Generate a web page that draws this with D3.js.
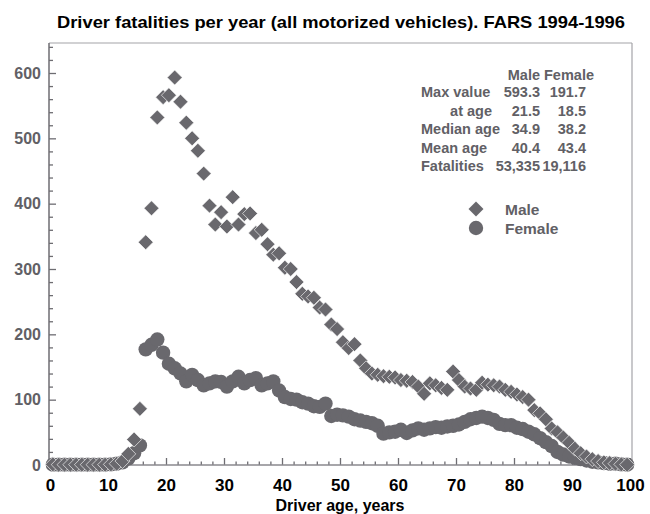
<!DOCTYPE html>
<html>
<head>
<meta charset="utf-8">
<script src="https://cdn.jsdelivr.net/npm/d3@7"></script>
<style>
  body { margin: 0; background: #fff; }
  text { font-family: "Liberation Sans", Arial, sans-serif; font-weight: bold; }
</style>
</head>
<body>
<script>

// driver age (mid-year of each age bin)
ages = [
  0.5, 1.5, 2.5, 3.5, 4.5, 5.5, 6.5, 7.5, 8.5, 9.5,
  10.5, 11.5, 12.5, 13.5, 14.5, 15.5, 16.5, 17.5, 18.5, 19.5,
  20.5, 21.5, 22.5, 23.5, 24.5, 25.5, 26.5, 27.5, 28.5, 29.5,
  30.5, 31.5, 32.5, 33.5, 34.5, 35.5, 36.5, 37.5, 38.5, 39.5,
  40.5, 41.5, 42.5, 43.5, 44.5, 45.5, 46.5, 47.5, 48.5, 49.5,
  50.5, 51.5, 52.5, 53.5, 54.5, 55.5, 56.5, 57.5, 58.5, 59.5,
  60.5, 61.5, 62.5, 63.5, 64.5, 65.5, 66.5, 67.5, 68.5, 69.5,
  70.5, 71.5, 72.5, 73.5, 74.5, 75.5, 76.5, 77.5, 78.5, 79.5,
  80.5, 81.5, 82.5, 83.5, 84.5, 85.5, 86.5, 87.5, 88.5, 89.5,
  90.5, 91.5, 92.5, 93.5, 94.5, 95.5, 96.5, 97.5, 98.5, 99.5
];

// fatalities per year, male drivers
male = [
  1, 0.5, 0.5, 0.5, 0.5, 0.5, 0.5, 0.5, 0.5, 0.5,
  1, 2, 6, 17, 39, 86, 341, 393, 532, 563,
  566, 593, 556, 524, 500, 481, 446, 397, 368, 387,
  365, 410, 368, 384, 385, 355, 360, 338, 322, 324,
  302, 300, 280, 262, 258, 256, 241, 238, 215, 208,
  188, 179, 185, 160, 148, 140, 138, 136, 135, 134,
  130, 129, 127, 120, 109, 125, 122, 118, 115, 143,
  130, 120, 117, 115, 126, 123, 122, 120, 115, 112,
  108, 104, 100, 84, 79, 70, 56, 50, 42, 34,
  25, 18, 13, 9, 6, 4, 3, 2, 1, 0.5
];

// fatalities per year, female drivers
female = [
  0.5, 0.5, 0.5, 0.5, 0.5, 0.5, 0.5, 0.5, 0.5, 0.5,
  1, 2, 4, 10, 18, 30, 177, 184, 192, 172,
  155, 148, 140, 128, 138, 130, 122, 125, 128, 127,
  120, 128, 135, 125, 130, 133, 122, 125, 128, 114,
  104, 101, 100, 96, 94, 90, 89, 94, 75, 77,
  76, 74, 70, 68, 66, 64, 60, 48, 50, 51,
  54, 49, 53, 56, 54, 56, 58, 57, 59, 60,
  62, 66, 70, 72, 74, 72, 69, 63, 61, 61,
  57, 55, 51, 47, 41, 35, 29, 20, 16, 13,
  11, 9, 7, 5, 4, 3, 2, 2, 1, 0.5
];

// axis ticks
xTicks = [0, 10, 20, 30, 40, 50, 60, 70, 80, 90, 100];
xMinor = [2, 4, 6, 8, 12, 14, 16, 18, 22, 24, 26, 28, 32, 34, 36, 38, 42, 44, 46, 48,
          52, 54, 56, 58, 62, 64, 66, 68, 72, 74, 76, 78, 82, 84, 86, 88, 92, 94, 96, 98];
yTicks = [0, 100, 200, 300, 400, 500, 600];
yMinor = [20, 40, 60, 80, 120, 140, 160, 180, 220, 240, 260, 280, 320, 340, 360, 380,
          420, 440, 460, 480, 520, 540, 560, 580, 620, 640];

// summary table
statCols = ["Male", "Female"];
statRows = ["Max value", "at age", "Median age", "Mean age", "Fatalities"];
statMale = ["593.3", "21.5", "34.9", "40.4", "53,335"];
statFemale = ["191.7", "18.5", "38.2", "43.4", "19,116"];

MARK = "#69686d";
GREY = "#616065";

var svgContainer = d3.select("body").append("svg")
                                    .attr("width", 650)
                                    .attr("height", 514);

var x = d3.scaleLinear().domain([0, 100]).range([50, 630]);
var y = d3.scaleLinear().domain([0, 600]).range([465, 73]);

// plot box edges (window.top is reserved, so no "top" here)
var plotLeft = 49, plotRight = 632, plotTop = Math.round(y(646)), plotBottom = y(0);

// title
svgContainer.append("text").attr("x", 341).attr("y", 28)
    .attr("text-anchor", "middle").attr("font-size", 17)
    .attr("textLength", 568).attr("lengthAdjust", "spacingAndGlyphs")
    .attr("fill", "#000")
    .text("Driver fatalities per year (all motorized vehicles). FARS 1994-1996");

// light frame top/right
svgContainer.append("line").attr("x1", plotLeft).attr("y1", plotTop).attr("x2", plotRight).attr("y2", plotTop)
    .attr("stroke", "#a4a3a8").attr("stroke-width", 1.2);
svgContainer.append("line").attr("x1", plotRight).attr("y1", plotTop).attr("x2", plotRight).attr("y2", plotBottom)
    .attr("stroke", "#a4a3a8").attr("stroke-width", 1.2);

// y axis
var yAxis = svgContainer.append("g").attr("transform", "translate(" + plotLeft + ",0)");
yAxis.call(d3.axisLeft(y).tickValues(yTicks).tickSizeInner(-7).tickSizeOuter(0).tickPadding(8));
yAxis.append("g").call(d3.axisLeft(y).tickValues(yMinor).tickSizeInner(-4).tickSizeOuter(0).tickFormat(""));
yAxis.selectAll(".domain").remove();
yAxis.selectAll("line").attr("stroke", "#6e6d72").attr("stroke-width", 1.3);
yAxis.selectAll("text").attr("font-size", 16).attr("fill", GREY)
    .attr("font-family", "'Liberation Sans', Arial, sans-serif").attr("font-weight", "bold");

// x axis
var xAxis = svgContainer.append("g").attr("transform", "translate(0," + plotBottom + ")");
xAxis.call(d3.axisBottom(x).tickValues(xTicks).tickSizeInner(-7).tickSizeOuter(0).tickPadding(14));
xAxis.append("g").call(d3.axisBottom(x).tickValues(xMinor).tickSizeInner(-3.5).tickSizeOuter(0).tickFormat(""));
xAxis.selectAll(".domain").remove();
xAxis.selectAll("line").attr("stroke", "#6e6d72").attr("stroke-width", 1.3);
xAxis.selectAll("text").attr("font-size", 17).attr("fill", "#000")
    .attr("font-family", "'Liberation Sans', Arial, sans-serif").attr("font-weight", "bold");

// axis lines
svgContainer.append("line").attr("x1", plotLeft).attr("y1", plotTop).attr("x2", plotLeft).attr("y2", plotBottom)
    .attr("stroke", "#6e6d72").attr("stroke-width", 1.5);
svgContainer.append("line").attr("x1", plotLeft).attr("y1", plotBottom).attr("x2", plotRight).attr("y2", plotBottom)
    .attr("stroke", "#8a898e").attr("stroke-width", 1.3);

// x axis title
svgContainer.append("text").attr("x", 340).attr("y", 511)
    .attr("text-anchor", "middle").attr("font-size", 16).attr("fill", "#000")
    .text("Driver age, years");

// female circles
svgContainer.append("g").selectAll("circle")
    .data(ages).enter().append("circle")
    .attr("cx", function(d) { return x(d); })
    .attr("cy", function(d, i) { return y(female[i]); })
    .attr("r", 7.2)
    .attr("fill", MARK);

// male diamonds (rotated squares)
var diamond = d3.symbol().type(d3.symbolSquare).size(112);
svgContainer.append("g").selectAll("path")
    .data(ages).enter().append("path")
    .attr("d", diamond)
    .attr("transform", function(d, i) { return "translate(" + x(d) + "," + y(male[i]) + ") rotate(45)"; })
    .attr("fill", MARK).attr("stroke", "#fff").attr("stroke-width", 0.6);

// summary table
var table = svgContainer.append("g").attr("font-size", 14.5).attr("fill", GREY);
table.append("text").attr("x", 540).attr("y", 80).attr("text-anchor", "end").text(statCols[0]);
table.append("text").attr("x", 594).attr("y", 80).attr("text-anchor", "end").text(statCols[1]);
for (var i = 0; i < statRows.length; i++) {
    var yy = 97 + i * 18.6;
    table.append("text").attr("x", i == 1 ? 492 : 421).attr("y", yy)
        .attr("text-anchor", i == 1 ? "end" : "start").text(statRows[i]);
    table.append("text").attr("x", 540).attr("y", yy).attr("text-anchor", "end").text(statMale[i]);
    table.append("text").attr("x", 586).attr("y", yy).attr("text-anchor", "end").text(statFemale[i]);
}

// legend
var legend = svgContainer.append("g").attr("font-size", 15.5).attr("fill", GREY);
legend.append("path").attr("d", diamond)
    .attr("transform", "translate(476,209) rotate(45)").attr("fill", MARK);
legend.append("circle").attr("cx", 476).attr("cy", 228).attr("r", 7.2).attr("fill", MARK);
legend.append("text").attr("x", 505).attr("y", 214.5).text("Male");
legend.append("text").attr("x", 505).attr("y", 234).text("Female");

</script>
</body>
</html>
